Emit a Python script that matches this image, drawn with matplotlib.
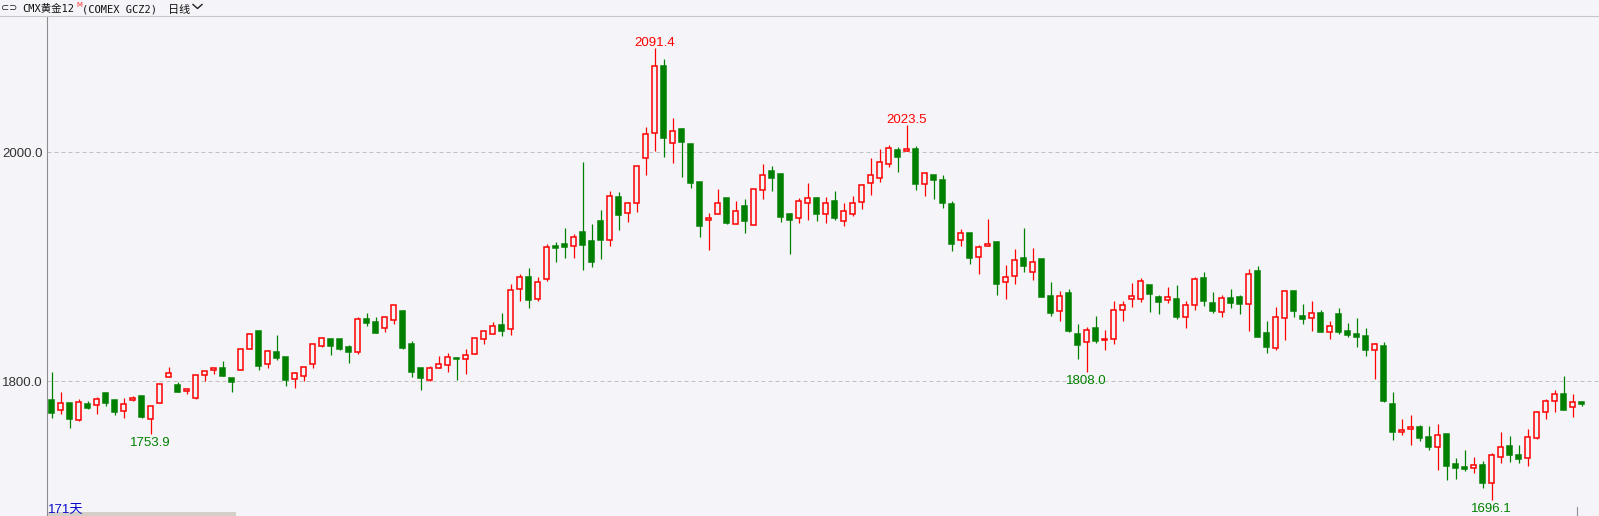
import matplotlib
matplotlib.use("Agg")
import matplotlib.pyplot as plt
from matplotlib.lines import Line2D
from matplotlib.patches import Rectangle

# COMEX gold Dec-22 (GCZ2), daily candles, 171 sessions
opens = [
    1783.6, 1774.6, 1781.0, 1766.5, 1779.9, 1779.0, 1789.7, 1783.6, 1773.7, 1783.6,
    1787.1, 1766.8, 1780.7, 1803.4, 1796.7, 1791.2, 1785.4, 1805.2, 1809.5, 1811.3,
    1802.6, 1809.5, 1827.9, 1843.9, 1814.8, 1825.6, 1821.2, 1801.7, 1804.3, 1814.8,
    1830.5, 1836.6, 1836.6, 1829.6, 1825.8, 1854.4, 1851.8, 1846.3, 1853.3, 1861.4,
    1832.6, 1811.4, 1800.9, 1811.4, 1814.0, 1820.4, 1819.2, 1823.6, 1836.7, 1841.1,
    1849.2, 1845.4, 1880.4, 1891.1, 1871.6, 1889.6, 1918.2, 1919.9, 1917.9, 1930.4,
    1922.5, 1940.0, 1923.1, 1961.0, 1946.7, 1955.4, 1994.7, 2016.6, 2075.4, 2007.8,
    2020.3, 2007.2, 1974.0, 1940.5, 1945.8, 1959.8, 1937.1, 1953.1, 1936.2, 1966.7,
    1983.3, 1981.0, 1946.1, 1942.3, 1955.4, 1960.0, 1945.8, 1957.4, 1939.7, 1945.9,
    1956.3, 1972.9, 1977.3, 1989.5, 2001.7, 2001.5, 2002.6, 1972.1, 1979.9, 1975.8,
    1954.6, 1923.1, 1929.6, 1908.3, 1917.9, 1921.7, 1886.5, 1891.7, 1907.7, 1895.2,
    1906.8, 1874.5, 1861.4, 1877.1, 1841.3, 1834.1, 1846.6, 1835.8, 1836.7, 1862.0,
    1871.9, 1871.6, 1884.1, 1873.7, 1870.7, 1871.9, 1855.9, 1866.3, 1890.2, 1868.4,
    1860.2, 1872.7, 1873.6, 1867.2, 1896.3, 1842.2, 1828.8, 1855.0, 1878.9, 1857.0,
    1855.0, 1859.6, 1843.4, 1858.8, 1844.0, 1841.6, 1839.6, 1827.7, 1830.9, 1780.2,
    1756.0, 1758.1, 1760.1, 1751.4, 1742.9, 1754.0, 1727.8, 1725.2, 1724.6, 1726.6,
    1710.9, 1734.1, 1743.2, 1735.3, 1732.7, 1750.2, 1772.9, 1782.5, 1788.9, 1777.2,
    1781.6,
]
highs = [
    1808.4, 1790.3, 1781.0, 1784.2, 1782.8, 1786.3, 1789.7, 1783.6, 1785.4, 1787.4,
    1787.3, 1778.1, 1797.3, 1812.2, 1799.1, 1794.4, 1805.2, 1808.7, 1811.3, 1818.0,
    1802.6, 1827.9, 1841.0, 1843.9, 1827.3, 1840.4, 1821.2, 1808.1, 1812.2, 1832.3,
    1838.7, 1836.6, 1836.6, 1831.4, 1855.8, 1859.7, 1855.9, 1855.9, 1866.4, 1862.3,
    1835.2, 1811.4, 1813.4, 1822.1, 1824.5, 1821.3, 1828.0, 1837.6, 1843.7, 1851.5,
    1859.4, 1884.7, 1893.5, 1898.9, 1890.8, 1919.9, 1921.7, 1933.9, 1928.6, 1991.5,
    1937.4, 1949.6, 1966.2, 1965.3, 1956.6, 1988.0, 2022.1, 2091.4, 2081.5, 2029.7,
    2021.0, 2007.5, 1974.0, 1946.9, 1967.6, 1959.8, 1957.4, 1958.9, 1967.6, 1989.7,
    1988.0, 1981.9, 1946.9, 1959.8, 1973.1, 1960.9, 1960.9, 1966.2, 1955.5, 1961.6,
    1972.3, 1994.8, 2002.6, 2006.1, 2004.4, 2023.5, 2005.5, 1981.7, 1979.9, 1979.9,
    1957.5, 1932.8, 1929.6, 1918.8, 1941.8, 1922.6, 1901.6, 1915.6, 1933.9, 1916.4,
    1906.8, 1886.8, 1878.9, 1880.6, 1850.1, 1847.5, 1857.1, 1845.1, 1870.5, 1870.5,
    1885.9, 1890.2, 1884.1, 1875.4, 1882.4, 1884.1, 1870.1, 1891.1, 1895.5, 1878.0,
    1875.4, 1880.6, 1875.4, 1898.1, 1900.7, 1852.7, 1864.9, 1880.0, 1878.9, 1867.5,
    1870.1, 1862.3, 1852.7, 1864.0, 1850.9, 1855.3, 1846.6, 1833.5, 1834.4, 1790.7,
    1767.1, 1770.6, 1761.9, 1761.0, 1762.7, 1754.0, 1733.1, 1740.0, 1733.9, 1730.1,
    1737.1, 1755.7, 1752.2, 1744.3, 1758.0, 1774.0, 1784.2, 1792.4, 1804.6, 1788.9,
    1781.6,
]
lows = [
    1768.2, 1771.7, 1759.5, 1765.6, 1775.8, 1771.7, 1778.7, 1770.5, 1768.2, 1783.1,
    1768.2, 1753.9, 1780.7, 1803.4, 1790.9, 1789.2, 1784.5, 1800.2, 1806.6, 1804.9,
    1790.9, 1809.5, 1827.9, 1810.1, 1811.9, 1818.9, 1796.2, 1794.4, 1800.5, 1811.9,
    1829.6, 1823.2, 1827.6, 1816.2, 1824.1, 1848.3, 1842.5, 1842.8, 1849.8, 1828.5,
    1804.1, 1792.7, 1800.0, 1811.4, 1808.5, 1801.2, 1806.7, 1823.6, 1832.9, 1841.1,
    1839.9, 1840.8, 1869.9, 1864.3, 1870.4, 1887.9, 1904.5, 1907.7, 1907.7, 1897.5,
    1900.1, 1907.1, 1918.5, 1932.4, 1939.4, 1948.2, 1980.5, 2001.4, 1996.2, 1990.9,
    1978.7, 1969.1, 1926.3, 1914.9, 1945.8, 1937.6, 1937.1, 1929.8, 1936.2, 1959.5,
    1966.5, 1939.4, 1911.4, 1937.9, 1941.1, 1940.3, 1937.9, 1940.5, 1936.0, 1944.1,
    1950.8, 1963.0, 1974.4, 1987.5, 1983.1, 2001.5, 1967.4, 1962.2, 1959.2, 1951.7,
    1914.1, 1918.5, 1902.8, 1893.5, 1917.9, 1875.7, 1872.2, 1884.7, 1895.8, 1888.8,
    1873.9, 1857.4, 1853.0, 1843.4, 1819.8, 1808.0, 1833.8, 1827.7, 1832.3, 1853.0,
    1865.2, 1869.6, 1860.9, 1858.8, 1868.7, 1854.7, 1846.8, 1862.6, 1865.8, 1859.9,
    1856.4, 1864.3, 1858.8, 1844.2, 1839.0, 1825.0, 1827.6, 1836.4, 1855.9, 1850.3,
    1844.2, 1843.1, 1837.0, 1841.3, 1838.7, 1830.0, 1822.1, 1802.0, 1782.0, 1748.8,
    1753.1, 1744.4, 1747.9, 1740.0, 1722.6, 1713.8, 1714.7, 1721.7, 1720.0, 1707.1,
    1696.1, 1728.9, 1729.8, 1728.9, 1726.0, 1749.3, 1767.0, 1773.2, 1774.9, 1769.1,
    1778.7,
]
closes = [
    1772.6, 1780.7, 1767.3, 1781.6, 1776.9, 1784.2, 1781.3, 1773.2, 1780.1, 1785.4,
    1769.1, 1778.1, 1797.3, 1806.9, 1790.9, 1793.0, 1805.2, 1808.7, 1811.3, 1804.9,
    1799.7, 1827.9, 1841.0, 1813.6, 1826.1, 1820.6, 1801.1, 1806.9, 1812.2, 1832.3,
    1837.5, 1831.1, 1828.5, 1825.8, 1854.1, 1851.2, 1842.5, 1855.9, 1866.4, 1829.4,
    1808.5, 1803.2, 1811.4, 1814.9, 1821.0, 1819.2, 1822.7, 1837.6, 1843.7, 1848.0,
    1844.3, 1879.5, 1890.8, 1871.3, 1886.4, 1917.0, 1916.1, 1917.6, 1925.7, 1918.8,
    1904.5, 1923.7, 1961.8, 1945.5, 1955.4, 1988.0, 2015.7, 2075.4, 2012.8, 2018.6,
    2009.2, 1973.4, 1935.9, 1942.3, 1955.4, 1938.5, 1948.4, 1940.3, 1967.6, 1979.8,
    1977.8, 1943.7, 1941.1, 1957.1, 1959.8, 1946.4, 1955.4, 1942.9, 1948.5, 1955.5,
    1971.2, 1979.9, 1991.3, 2003.5, 1996.2, 2002.6, 1972.6, 1981.7, 1976.1, 1956.0,
    1920.2, 1929.3, 1908.0, 1917.0, 1920.2, 1884.7, 1890.8, 1905.7, 1901.0, 1903.9,
    1873.9, 1860.0, 1874.2, 1844.3, 1832.0, 1844.5, 1835.5, 1837.0, 1862.3, 1866.4,
    1874.2, 1887.6, 1876.0, 1869.6, 1873.3, 1856.4, 1866.3, 1889.0, 1870.4, 1861.7,
    1872.5, 1868.7, 1867.8, 1893.4, 1839.0, 1830.3, 1855.9, 1878.6, 1861.7, 1854.7,
    1859.4, 1843.3, 1848.3, 1842.8, 1840.5, 1839.0, 1827.4, 1832.6, 1782.8, 1755.8,
    1757.5, 1760.1, 1750.5, 1742.9, 1753.1, 1726.1, 1724.3, 1723.4, 1726.9, 1711.4,
    1735.3, 1742.3, 1735.9, 1732.4, 1751.0, 1772.9, 1782.5, 1788.9, 1774.9, 1781.6,
    1779.9,
]

# candles whose high / low gets a price tag
high_marks = [67, 95]
low_marks = [11, 115, 160]

y_ticks = [1800.0, 2000.0]
days_label = "171天"

W, H = 1599, 516
BG = "#f5f5f9"
UP = "#ff0000"
DOWN = "#008000"

plt.rcParams['font.family'] = ['Liberation Sans', 'Noto Sans CJK SC', 'DejaVu Sans']


def fx(x):
    return x / W


def fy(y):
    # y measured in pixels from the top edge
    return 1 - y / H


fig = plt.figure(figsize=(W / 100, H / 100), dpi=100, facecolor=BG)
ax = fig.add_axes([fx(47), 0, (W - 47) / W, 500 / H])
ax.set_facecolor(BG)
ax.set_xlim(-0.52, 171.92)
ax.set_ylim(1682.4, 2119.0)

for i in range(len(opens)):
    o, h, l, c = opens[i], highs[i], lows[i], closes[i]
    up = c >= o
    col = UP if up else DOWN
    ax.vlines(i, l, h, color=col, lw=0.9, zorder=2)
    ax.bar(i, max(abs(c - o), 0.3), bottom=min(o, c), width=0.6,
           facecolor=BG if up else col, edgecolor=col, linewidth=1.1, zorder=3)

for i in high_marks:
    ax.annotate("%.1f" % highs[i], xy=(i, highs[i]), xytext=(0, 1.5),
                textcoords='offset points', ha='center', va='baseline',
                color=UP, fontsize=9.5)
for i in low_marks:
    ax.annotate("%.1f" % lows[i], xy=(i, lows[i]), xytext=(0, -2.2),
                textcoords='offset points', ha='center', va='top',
                color=DOWN, fontsize=9.5)

ax.set_xticks([])
ax.set_yticks(y_ticks)
ax.set_yticklabels(["%.1f" % v for v in y_ticks])
ax.tick_params(axis='y', length=0, pad=3, labelsize=9.5, labelcolor='#333333')
ax.grid(axis='y', color='#c0c0c0', linestyle=(0, (4, 3)), linewidth=0.72)
for s in ['top', 'right', 'bottom']:
    ax.spines[s].set_visible(False)
ax.spines['left'].set_color('#8c8c8c')
ax.spines['left'].set_linewidth(0.8)

# header strip
fig.add_artist(Line2D([0, 1], [fy(16), fy(16)], color='#c8c8c8', lw=0.8))
fig.text(fx(1), fy(11.5), "⊂⊃", fontsize=7, family='DejaVu Sans', color='#222222')
mono_cjk = ['DejaVu Sans Mono', 'Noto Sans CJK SC']
fig.text(fx(22), fy(12), "CMX黄金12", fontsize=7.5, family=mono_cjk, color='#111111')
fig.text(fx(76), fy(7), "M", fontsize=5, family='DejaVu Sans', color='#ff3030')
fig.text(fx(82), fy(12), "(COMEX GCZ2)", fontsize=7.5, family=mono_cjk, color='#111111')
fig.text(fx(168), fy(12.5), "日线", fontsize=8, family=['Noto Sans CJK SC'], color='#111111')
fig.add_artist(Line2D([fx(193), fx(197.5), fx(202)], [fy(4.5), fy(8.5), fy(4.5)],
                      color='#222222', lw=1.0))

# bottom-left day count and scroll strip
fig.text(fx(48), fy(512.5), days_label, fontsize=9.5, color='#0a0ac8')
fig.add_artist(Rectangle((fx(48), 0), fx(236) - fx(48), 4 / H,
                         facecolor='#d4d0c8', edgecolor='none'))
fig.add_artist(Line2D([fx(1577), fx(1577)], [0, 9 / H], color='#909090', lw=0.8))

fig.savefig("out.png", dpi=100, facecolor=BG)
